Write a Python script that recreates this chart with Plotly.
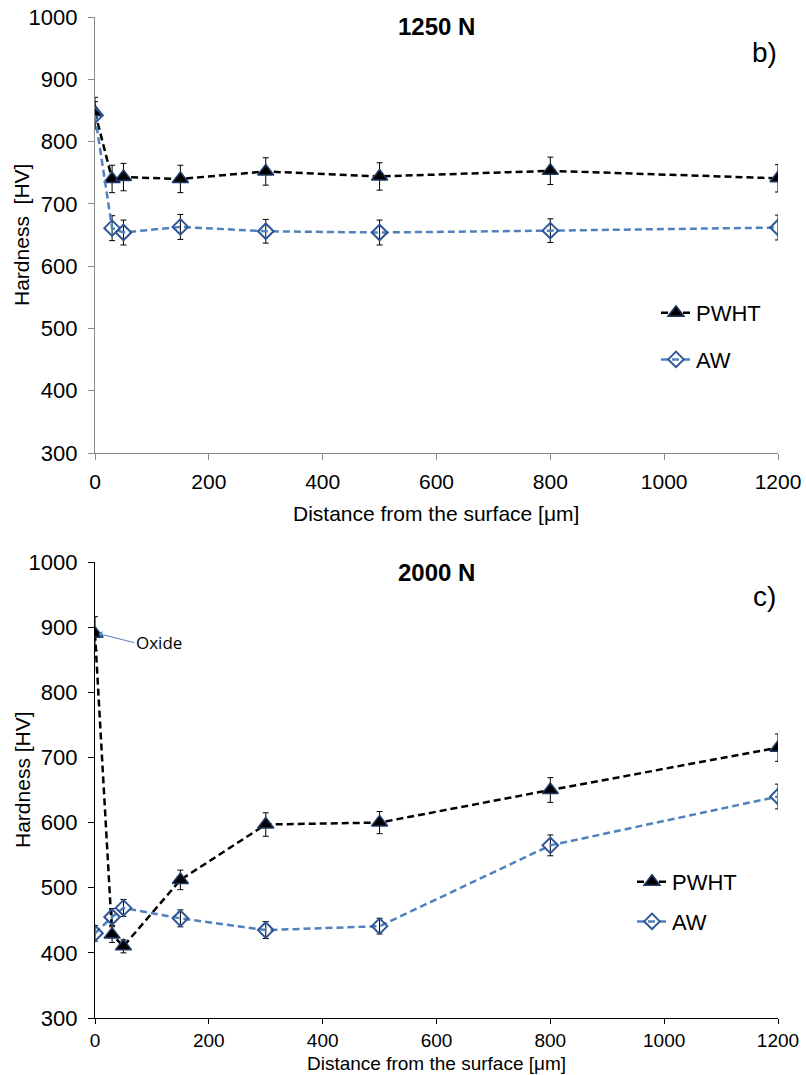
import plotly.graph_objects as go

# ---- data ----
depth = [0, 30, 50, 150, 300, 500, 800, 1200]

pwht_1250 = [847, 740, 743, 740, 752, 744, 753, 741]
pwht_1250_err = [24, 22, 22, 22, 22, 22, 22, 22]
aw_1250 = [842, 661, 654, 663, 656, 654, 657, 662]
aw_1250_err = [22, 20, 20, 20, 19, 20, 19, 20]

pwht_2000 = [890, 428, 410, 512, 597, 600, 650, 715]
pwht_2000_err = [26, 12, 10, 15, 18, 17, 19, 21]
aw_2000 = [430, 455, 469, 453, 435, 441, 565, 640]
aw_2000_err = [12, 13, 13, 13, 13, 12, 16, 19]

x_ticks = [0, 200, 400, 600, 800, 1000, 1200]
y_ticks = [300, 400, 500, 600, 700, 800, 900, 1000]

FONT = "Liberation Sans"
BLACK_LINE = "#000000"
BLUE_LINE = "#4F81BD"
MARKER_EDGE = "#1F3864"
DIAMOND = "#2E5597"

W, H = 806, 1075
ML, MR, MT, MB = 95, 28, 17, 57
PH = H - MT - MB
PW = W - ML - MR


def py(px_y):
    """paper y coordinate from a pixel row"""
    return (H - MB - px_y) / PH


def pxx(px_x):
    return (px_x - ML) / PW


fig = go.Figure()


def add_pair(xa, ya, leg, pw, pwe, aw, awe):
    fig.add_trace(go.Scatter(
        x=depth, y=pw, name="PWHT", mode="lines+markers",
        xaxis=xa, yaxis=ya, legend=leg, legendgroup=leg + "p",
        line=dict(color=BLACK_LINE, width=2.5, dash="7px,4px"),
        marker=dict(symbol="triangle-up", size=14, color="#000000",
                    line=dict(color=MARKER_EDGE, width=1.5)),
        error_y=dict(type="data", array=pwe, visible=True, color="#000000",
                     thickness=1, width=3),
    ))
    fig.add_trace(go.Scatter(
        x=depth, y=aw, name="AW", mode="lines+markers",
        xaxis=xa, yaxis=ya, legend=leg, legendgroup=leg + "a",
        line=dict(color=BLUE_LINE, width=2.5, dash="7px,4px"),
        marker=dict(symbol="diamond-open", size=12, color=DIAMOND,
                    line=dict(width=2)),
        error_y=dict(type="data", array=awe, visible=True, color="#000000",
                     thickness=1, width=3),
    ))


add_pair("x", "y", "legend", pwht_1250, pwht_1250_err, aw_1250, aw_1250_err)
add_pair("x2", "y2", "legend2", pwht_2000, pwht_2000_err, aw_2000, aw_2000_err)

common_x = dict(range=[0, 1200], tickvals=x_ticks, showgrid=False, zeroline=False,
                ticks="outside", showline=True, automargin=False)
common_y = dict(range=[300, 1000], tickvals=y_ticks, showgrid=False, zeroline=False,
                ticks="outside", ticklen=6, showline=True, automargin=False,
                ticklabelstandoff=6,
                tickfont=dict(family=FONT, size=22, color="#000"))

fig.update_layout(
    width=W, height=H,
    margin=dict(l=ML, r=MR, t=MT, b=MB),
    paper_bgcolor="white", plot_bgcolor="white",
    font=dict(family=FONT, color="#000"),
    xaxis=dict(common_x, anchor="y", linecolor="#888888", tickcolor="#888888",
               linewidth=1.2, ticklen=6, ticklabelstandoff=4,
               tickfont=dict(family=FONT, size=21, color="#000")),
    yaxis=dict(common_y, domain=[py(453), 1.0], anchor="x", linecolor="#888888",
               tickcolor="#888888", linewidth=1.2),
    xaxis2=dict(common_x, anchor="y2", linecolor="#000", tickcolor="#000",
                linewidth=1.2, ticklen=5, ticklabelstandoff=0,
                tickfont=dict(family=FONT, size=19, color="#000")),
    yaxis2=dict(common_y, domain=[0.0, py(562)], anchor="x2", linecolor="#000",
                tickcolor="#000", linewidth=1.2),
    legend=dict(x=pxx(656), y=py(292), xanchor="left", yanchor="top",
                font=dict(family=FONT, size=22, color="#000"),
                tracegroupgap=15, bgcolor="rgba(0,0,0,0)"),
    legend2=dict(x=pxx(632), y=py(861), xanchor="left", yanchor="top",
                 font=dict(family=FONT, size=22, color="#000"),
                 tracegroupgap=8, bgcolor="rgba(0,0,0,0)"),
    showlegend=True,
)

annots = [
    dict(text="<b>1250 N</b>", xref="paper", yref="paper", x=pxx(436), y=py(27),
         xanchor="center", yanchor="middle", showarrow=False,
         font=dict(family=FONT, size=24, color="#000")),
    dict(text="b)", xref="paper", yref="paper", x=pxx(764), y=py(52),
         xanchor="center", yanchor="middle", showarrow=False,
         font=dict(family=FONT, size=28, color="#000")),
    dict(text="<b>2000 N</b>", xref="paper", yref="paper", x=pxx(436), y=py(572),
         xanchor="center", yanchor="middle", showarrow=False,
         font=dict(family=FONT, size=24, color="#000")),
    dict(text="c)", xref="paper", yref="paper", x=pxx(764), y=py(596),
         xanchor="center", yanchor="middle", showarrow=False,
         font=dict(family=FONT, size=28, color="#000")),
    # axis titles
    dict(text="Distance from the surface [μm]", xref="paper", yref="paper",
         x=pxx(436), y=py(513), xanchor="center", yanchor="middle", showarrow=False,
         font=dict(family=FONT, size=21, color="#000")),
    dict(text="Distance from the surface [μm]", xref="paper", yref="paper",
         x=pxx(436), y=py(1075), xanchor="center", yanchor="bottom", showarrow=False,
         borderpad=0, font=dict(family=FONT, size=19, color="#000")),
    dict(text="Hardness  [HV]", xref="paper", yref="paper", textangle=-90,
         x=pxx(22), y=py(235), xanchor="center", yanchor="middle", showarrow=False,
         font=dict(family=FONT, size=21, color="#000")),
    dict(text="Hardness [HV]", xref="paper", yref="paper", textangle=-90,
         x=pxx(22), y=py(780), xanchor="center", yanchor="middle", showarrow=False,
         font=dict(family=FONT, size=21, color="#000")),
    dict(text="Oxide", xref="x2", yref="y2", x=depth[0] + 6, y=pwht_2000[0],
         showarrow=True, ax=36, ay=9, xanchor="left", yanchor="middle",
         arrowhead=1, arrowsize=1.2, arrowwidth=1, arrowcolor=BLUE_LINE,
         font=dict(family="Open Sans", size=17, color="#000")),
]
fig.update_layout(annotations=annots)

fig.write_html("out.html")
